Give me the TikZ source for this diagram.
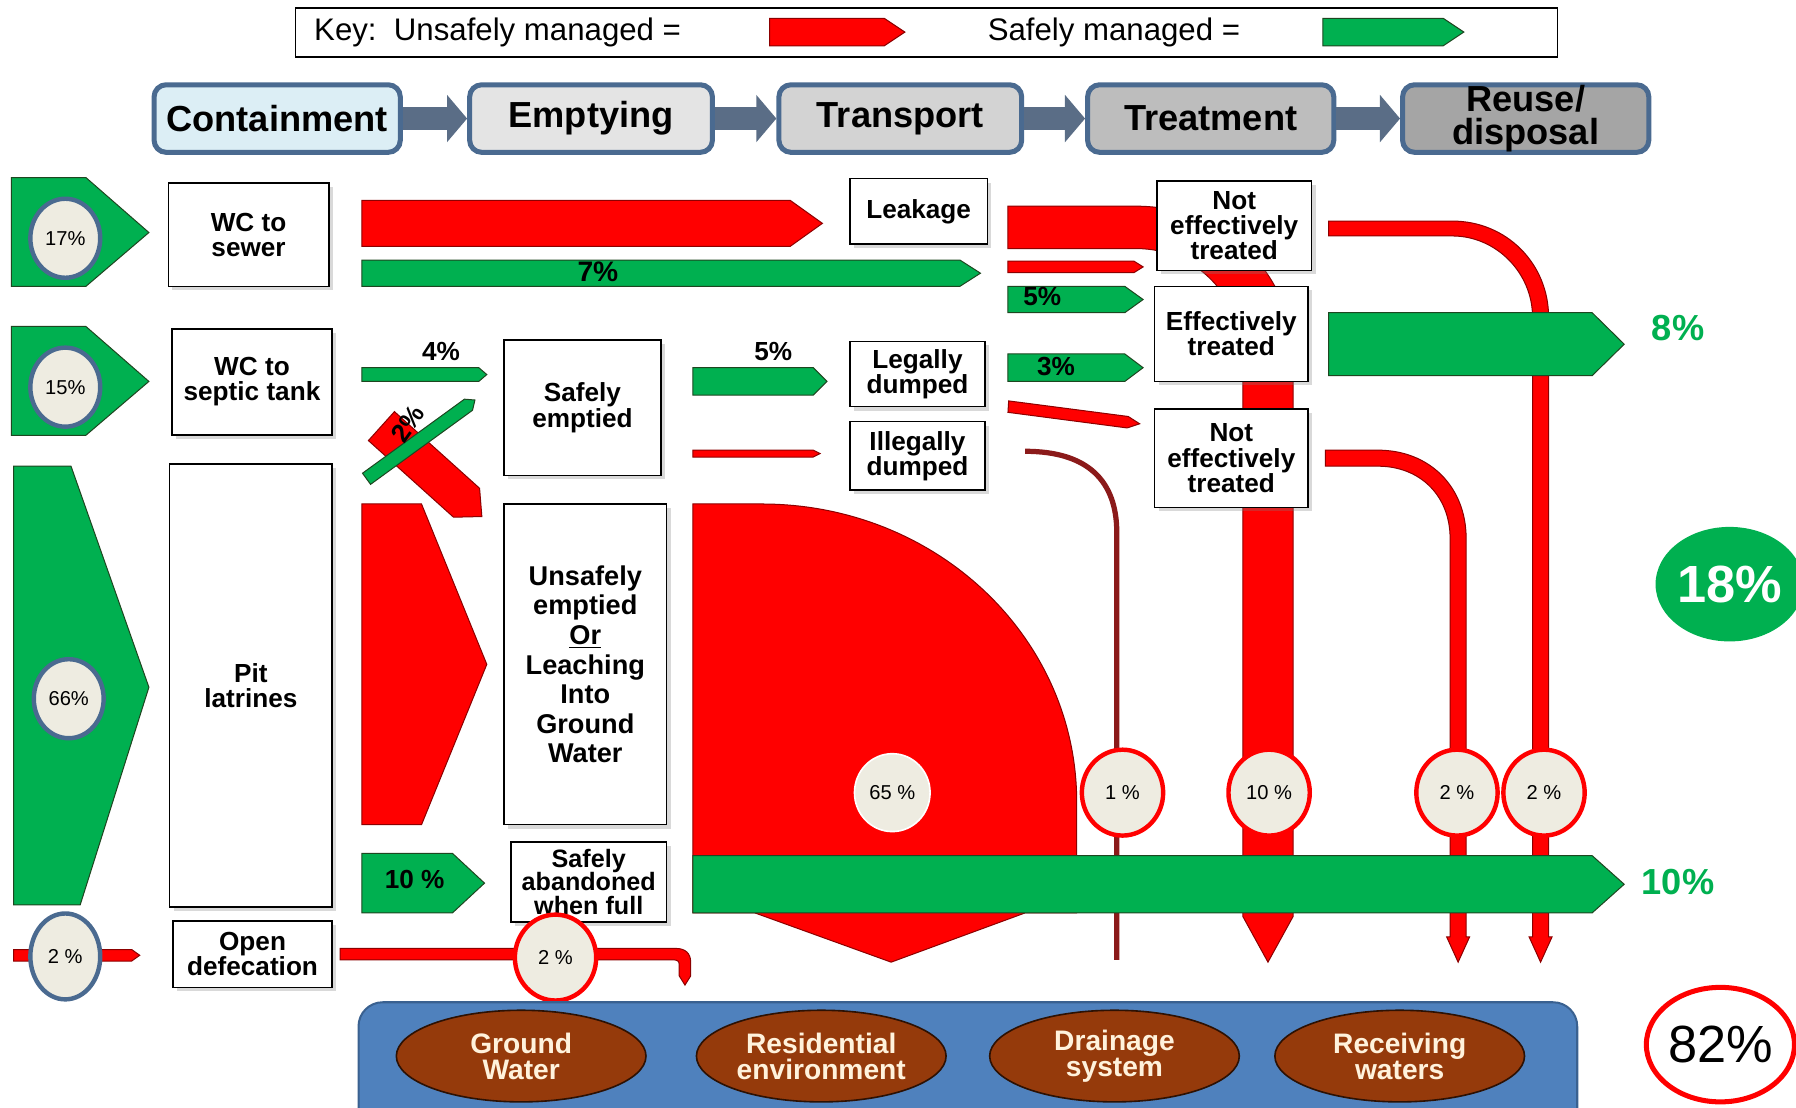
\documentclass[tikz,border=0pt]{standalone}
\usepackage{fontspec}
\setmainfont{Liberation Sans}
\usetikzlibrary{shapes.geometric, arrows.meta, shadows}

\definecolor{sfdred}{HTML}{FF0000}
\definecolor{sfdredline}{HTML}{8C0000}
\definecolor{sfdgreen}{HTML}{00B050}
\definecolor{sfdgreenline}{HTML}{1E4620}
\definecolor{hdrline}{HTML}{4A6A90}
\definecolor{hdrarrow}{HTML}{5A6D86}
\definecolor{hdrcont}{HTML}{DCEEF5}
\definecolor{hdrempt}{HTML}{E4E4E4}
\definecolor{hdrtrans}{HTML}{D3D3D3}
\definecolor{hdrtreat}{HTML}{BDBDBD}
\definecolor{hdrreuse}{HTML}{A5A5A5}
\definecolor{pctfill}{HTML}{EEECE1}
\definecolor{envblue}{HTML}{4F81BD}
\definecolor{envline}{HTML}{3A6190}
\definecolor{envbrown}{HTML}{953A0B}
\definecolor{envtext}{HTML}{FFF2DC}
\definecolor{darkred}{HTML}{8B1A1A}

\tikzset{
  redflow/.style={fill=sfdred, draw=sfdredline, line width=0.5pt},
  greenflow/.style={fill=sfdgreen, draw=sfdgreenline, line width=0.5pt},
  lblbox/.style={draw, fill=white, line width=0.8pt, align=center, inner sep=0pt,
    font=\bfseries\fontsize{13}{12.5}\selectfont,
    drop shadow={opacity=0.3, shadow xshift=2pt, shadow yshift=-2pt}},
  hdr/.style={draw=hdrline, line width=2.5pt, rounded corners=6pt, align=center, inner sep=0pt,
    font=\bfseries\fontsize{18}{16.5}\selectfont, minimum height=1.18cm},
  hdrlink/.style={draw=hdrarrow, line width=11pt, -{Triangle[width=23pt, length=10pt]}},
  pctblue/.style={ellipse, fill=pctfill, draw=hdrline, line width=2.2pt, inner sep=0pt,
    font=\fontsize{10}{10}\selectfont, minimum width=1.22cm, minimum height=1.38cm},
  pctred/.style={ellipse, fill=pctfill, draw=sfdred, line width=2.2pt, inner sep=0pt,
    font=\fontsize{10}{10}\selectfont, minimum width=1.42cm, minimum height=1.5cm},
  flowlbl/.style={font=\bfseries\fontsize{13}{13}\selectfont, inner sep=0pt},
  sidelbl/.style={font=\bfseries\fontsize{18}{18}\selectfont, text=sfdgreen, inner sep=0pt},
  env/.style={ellipse, fill=envbrown, draw=black!70!envbrown, line width=0.8pt, text=envtext,
    align=center, font=\bfseries\fontsize{14}{13}\selectfont,
    minimum width=4.36cm, minimum height=1.6cm, inner sep=0pt},
}

\begin{document}
\begin{tikzpicture}[x=0.02cm, y=-0.02cm]
  \useasboundingbox (0,0) rectangle (1568,967);
  \clip (0,0) rectangle (1568,967);

  % key
  \node[draw, line width=0.8pt, minimum width=22.04cm, minimum height=0.86cm, inner sep=0pt] (key) at (809,28.5) {};
  \node[anchor=west, font=\fontsize{15.5}{16}\selectfont, inner sep=0pt] (keyunsafe) at (274,28.5) {Key:\ \ Unsafely managed =};
  \draw[redflow] (672,16) -- (772,16) -- (790,28) -- (772,40) -- (672,40) -- cycle;
  \node[anchor=west, font=\fontsize{15.5}{16}\selectfont, inner sep=0pt] (keysafe) at (862,28.5) {Safely managed =};
  \draw[greenflow] (1155,16) -- (1260,16) -- (1278,28) -- (1260,40) -- (1155,40) -- cycle;

  % chain
  \node[hdr, fill=hdrcont, minimum width=4.3cm] (cont) at (242,103.5) {Containment};
  \node[hdr, fill=hdrempt, minimum width=4.24cm] (empt) at (516,103.5) {Emptying};
  \node[hdr, fill=hdrtrans, minimum width=4.24cm] (trans) at (786,103.5) {Transport};
  \node[hdr, fill=hdrtreat, minimum width=4.3cm] (treat) at (1057,103.5) {Treatment};
  \node[hdr, fill=hdrreuse, minimum width=4.3cm] (reuse) at (1332,103.5) {Reuse/\\disposal};
  \draw[hdrlink] (cont) -- (empt);
  \draw[hdrlink] (empt) -- (trans);
  \draw[hdrlink] (trans) -- (treat);
  \draw[hdrlink] (treat) -- (reuse);

  % sewer row
  \draw[greenflow] (10,155) -- (75,155) -- (130,203) -- (75,250) -- (10,250) -- cycle;
  \draw[redflow] (316,175) -- (690,175) -- (718,195) -- (690,215) -- (316,215) -- cycle;
  \draw[greenflow] (316,227) -- (838,227) -- (856,238.5) -- (838,250) -- (316,250) -- cycle;
  \node[flowlbl, font=\bfseries\fontsize{14}{14}\selectfont] (sevenpct) at (522,237) {7\%};
  \draw[redflow] (880,180) -- (992,180) .. controls (1070,180) and (1129,240) .. (1129,313)
    -- (1129,800) -- (1107,840) -- (1085,800) -- (1085,313)
    .. controls (1085,260) and (1045,217) .. (992,217) -- (880,217) -- cycle;
  \draw[redflow] (880,228) -- (990,228) -- (998,233) -- (990,238) -- (880,238) -- cycle;
  \draw[greenflow] (880,250) -- (982,250) -- (998,261.5) -- (982,273) -- (880,273) -- cycle;
  \node[flowlbl] (fivepcttr) at (910,259) {5\%};
  \draw[redflow] (1160,193) -- (1268,193) .. controls (1315,193) and (1352,230) .. (1352,277)
    -- (1352,818) -- (1355,818) -- (1345,840) -- (1335,818) -- (1338,818) -- (1338,277)
    .. controls (1338,238) and (1306,206) .. (1268,206) -- (1160,206) -- cycle;
  \draw[redflow] (1157,393) -- (1203,393) .. controls (1248,393) and (1280,425) .. (1280,470)
    -- (1280,818) -- (1283,818) -- (1273,840) -- (1263,818) -- (1266,818) -- (1266,470)
    .. controls (1266,433) and (1240,407) .. (1203,407) -- (1157,407) -- cycle;
  \draw[greenflow] (1160,273) -- (1390,273) -- (1418,300.5) -- (1390,328) -- (1160,328) -- cycle;
  \node[sidelbl] (eightpct) at (1465,286) {8\%};

  % septic row
  \draw[greenflow] (10,285) -- (75,285) -- (130,333) -- (75,380) -- (10,380) -- cycle;
  \draw[greenflow] (316,321) -- (418,321) -- (425,327) -- (418,333) -- (316,333) -- cycle;
  \node[flowlbl] (fourpct) at (385,307) {4\%};
  \draw[greenflow] (605,321) -- (710,321) -- (722,333) -- (710,345) -- (605,345) -- cycle;
  \node[flowlbl] (fivepct) at (675,307) {5\%};
  \draw[greenflow] (880,309) -- (982,309) -- (998,321) -- (982,333) -- (880,333) -- cycle;
  \node[flowlbl] (threepct) at (922,320) {3\%};
  \draw[redflow] (880.6,350) -- (985,363.6) -- (995,370) -- (984,373.6) -- (880,360) -- cycle;
  \draw[redflow] (605,393) -- (710,393) -- (716,396) -- (710,399) -- (605,399) -- cycle;
  \draw[darkred, line width=2.6pt] (895,394) .. controls (950,394) and (975,420) .. (975,465) -- (975,838);
  \begin{scope}[shift={(333,372)}, rotate=-42]
    \draw[redflow] (0,-17) -- (100,-17) -- (118,0) -- (100,17) -- (0,17) -- cycle;
  \end{scope}
  \begin{scope}[shift={(320,418)}, rotate=36]
    \draw[greenflow] (0,-6) -- (110,-6) -- (117,0) -- (110,6) -- (0,6) -- cycle;
  \end{scope}
  \node[flowlbl, rotate=55] (twopctpit) at (356,370) {2\%};

  % pit row
  \draw[greenflow] (12,407) -- (62,407) -- (130,600) -- (70,790) -- (12,790) -- cycle;
  \draw[redflow] (316,440) -- (368,440) -- (425,580) -- (368,720) -- (316,720) -- cycle;
  \draw[redflow] (605,440) -- (665,440) .. controls (817,440) and (940,556) .. (940,700)
    -- (940,797) -- (895,797) -- (778,840) -- (659,797) -- (605,797) -- cycle;
  \draw[greenflow] (605,747) -- (1390,747) -- (1418,772) -- (1390,797) -- (605,797) -- cycle;
  \node[sidelbl] (tenpctside) at (1465,770) {10\%};
  \draw[greenflow] (316,745) -- (395,745) -- (423,771) -- (395,797) -- (316,797) -- cycle;
  \node[flowlbl] (tenpct) at (362,768) {10 \%};

  % open defecation row
  \draw[redflow] (12,829) -- (115,829) -- (122,834) -- (115,839) -- (12,839) -- cycle;
  \draw[redflow] (297,828) -- (590,828) .. controls (598,828) and (603,832) .. (603,840)
    -- (603,852) -- (598,860) -- (593,852) -- (593,842)
    .. controls (593,839) and (591,838) .. (588,838) -- (297,838) -- cycle;

  % boxes
  \node[lblbox, minimum width=2.8cm, minimum height=1.8cm] (wcsewer) at (217,205) {WC to\\sewer};
  \node[lblbox, minimum width=2.4cm, minimum height=1.14cm] (leak) at (802,184.5) {Leakage};
  \node[lblbox, minimum width=2.7cm, minimum height=1.56cm] (nottreatone) at (1077.5,197) {Not\\effectively\\treated};
  \node[lblbox, minimum width=2.68cm, minimum height=1.66cm] (treated) at (1075,291.5) {Effectively\\treated};
  \node[lblbox, minimum width=2.68cm, minimum height=1.72cm] (nottreattwo) at (1075,400) {Not\\effectively\\treated};
  \node[lblbox, minimum width=2.8cm, minimum height=1.86cm] (wcseptic) at (220,333.5) {WC to\\septic tank};
  \node[lblbox, minimum width=2.74cm, minimum height=2.36cm] (safeempty) at (508.5,356) {Safely\\emptied};
  \node[lblbox, minimum width=2.36cm, minimum height=1.14cm] (legal) at (801,326.5) {Legally\\dumped};
  \node[lblbox, minimum width=2.36cm, minimum height=1.2cm] (illegal) at (801,398) {Illegally\\dumped};
  \node[lblbox, minimum width=2.84cm, minimum height=7.74cm] (pit) at (219,598.5) {Pit\\latrines};
  \node[lblbox, minimum width=2.84cm, minimum height=5.6cm, font=\bfseries\fontsize{13.5}{14.7}\selectfont] (unsafeempty) at (511,580)
    {Unsafely\\emptied\\\underline{Or}\\Leaching\\Into\\Ground\\Water};
  \node[lblbox, minimum width=2.72cm, minimum height=1.4cm, font=\bfseries\fontsize{12.5}{11.8}\selectfont] (abandon) at (514,770) {Safely\\abandoned\\when full};
  \node[lblbox, minimum width=2.78cm, minimum height=1.16cm] (opendef) at (220.5,833) {Open\\defecation};

  % percentages
  \node[pctblue] (sewerpct) at (57,208) {17\%};
  \node[pctblue] (septicpct) at (57,338) {15\%};
  \node[pctblue] (pitpct) at (60,610) {66\%};
  \node[pctblue, minimum height=1.5cm] (odpct) at (57,835) {2 \%};
  \node[pctred] (odlinepct) at (485,836) {2 \%};
  \node[pctblue, draw=white, line width=0.8pt, minimum width=1.32cm, minimum height=1.36cm] (groundpct) at (779,692) {65 \%};
  \node[pctred] (illegalpct) at (980,692) {1 \%};
  \node[pctred] (drainpct) at (1108,692) {10 \%};
  \node[pctred] (sepnotpct) at (1272,692) {2 \%};
  \node[pctred] (sewnotpct) at (1348,692) {2 \%};
  \node[ellipse, fill=sfdgreen, text=white, minimum width=2.32cm, minimum height=2.0cm, inner sep=0pt,
    font=\bfseries\fontsize{26}{26}\selectfont] (safetotal) at (1510,510) {18\%};
  \node[ellipse, fill=white, draw=sfdred, line width=2.5pt, minimum width=2.36cm, minimum height=2.0cm, inner sep=0pt,
    font=\fontsize{26}{26}\selectfont] (unsafetotal) at (1502,912) {82\%};

  % receiving environment
  \draw[fill=envblue, draw=envline, line width=1pt, rounded corners=12pt] (313,875) rectangle (1377,995);
  \node[env] (ground) at (455,922) {Ground\\Water};
  \node[env] (resid) at (717,922) {Residential\\environment};
  \node[env] (drain) at (973,922) {Drainage\\system};
  \node[env] (recv) at (1222,922) {Receiving\\waters};
\end{tikzpicture}
\end{document}
